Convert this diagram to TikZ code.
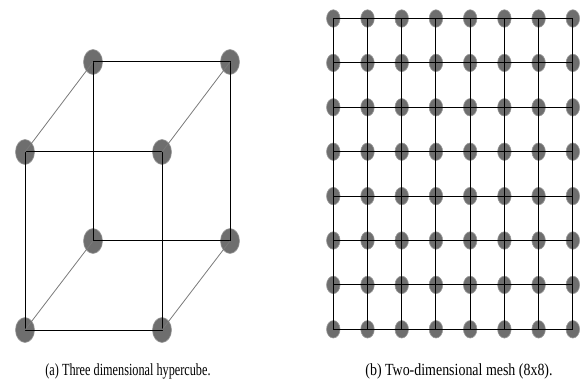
\documentclass[tikz,border=0pt]{standalone}
\usepackage{fontspec}
\setmainfont{Liberation Serif}
\usetikzlibrary{shapes.geometric}
\definecolor{nodefill}{HTML}{6E6E6E}
\definecolor{nodeedge}{HTML}{9A9A9A}
\definecolor{diag}{HTML}{7A7A7A}
\tikzset{
  cubenode/.style={ellipse, fill=nodefill, draw=nodeedge, line width=0.6pt, minimum width=19pt, minimum height=25pt, inner sep=0pt},
  meshnode/.style={ellipse, fill=nodefill, draw=nodeedge, line width=0.6pt, minimum width=13.5pt, minimum height=17.5pt, inner sep=0pt},
  edge/.style={draw=black, line width=1pt},
  diagedge/.style={draw=diag, line width=0.8pt},
  caption/.style={font=\fontsize{17}{20}\selectfont, inner sep=0pt, anchor=base}
}
\begin{document}
\begin{tikzpicture}[x=1pt,y=-1pt]
\useasboundingbox (0,0) rectangle (587,385);
% hypercube nodes
\node[cubenode] (bTL) at (93,62) {};
\node[cubenode] (bTR) at (230,62) {};
\node[cubenode] (fTL) at (25,152) {};
\node[cubenode] (fTR) at (162,152) {};
\node[cubenode] (bBL) at (93,241) {};
\node[cubenode] (bBR) at (230,241) {};
\node[cubenode] (fBL) at (25,330) {};
\node[cubenode] (fBR) at (162,330) {};
% cube edges
\draw[edge] (bTL.center) -- (bTR.center) -- (bBR.center) -- (bBL.center) -- (bTL.center);
\draw[edge] (fTL.center) -- (fTR.center) -- (fBR.center) -- (fBL.center) -- (fTL.center);
\draw[diagedge] (fTL.center) -- (bTL.center);
\draw[diagedge] (fTR.center) -- (bTR.center);
\draw[diagedge] (fBL.center) -- (bBL.center);
\draw[diagedge] (fBR.center) -- (bBR.center);
% mesh nodes
\foreach \i in {1,...,8}{
  \foreach \j in {1,...,8}{
    \node[meshnode] (m\i\j) at ({333.3+(\j-1)*34.22},{18.5+(\i-1)*44.4}) {};
  }
}
% mesh edges
\foreach \i in {1,...,8}{
  \draw[edge] (m\i1.center) -- (m\i8.center);
  \draw[edge] (m1\i.center) -- (m8\i.center);
}
% captions
\node[caption] (capa) at (128,375) {\scalebox{0.72}[1]{(a) Three dimensional hypercube.}};
\node[caption] (capb) at (459,375) {\scalebox{0.82}[1]{(b) Two-dimensional mesh (8x8).}};
\end{tikzpicture}
\end{document}
